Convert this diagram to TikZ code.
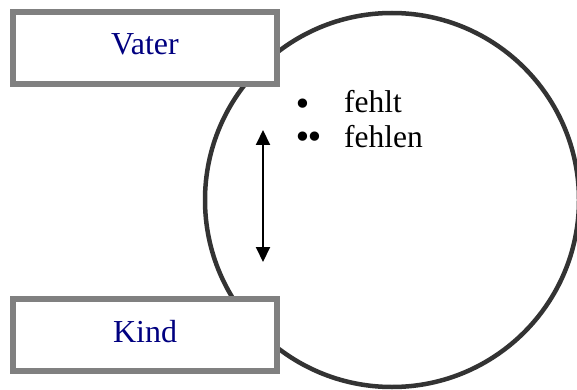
\documentclass[tikz,border=0pt]{standalone}
\usepackage{fontspec}
\setmainfont{Liberation Serif}
\newfontfamily\bulletfont{DejaVu Sans}
\usetikzlibrary{arrows.meta}
\definecolor{navy}{HTML}{000080}
\definecolor{boxgray}{HTML}{808080}
\definecolor{ringgray}{HTML}{333333}
\begin{document}
\begin{tikzpicture}[x=1pt,y=-1pt,
  labelbox/.style={draw=boxgray,line width=6pt,fill=white,minimum width=264pt,minimum height=72pt,inner sep=0pt},
  boxtext/.style={text=navy,font=\fontsize{32}{34}\selectfont,anchor=base},
  listtext/.style={text=black,font=\fontsize{31.5}{34}\selectfont,anchor=base west,inner sep=0pt},
  bullettext/.style={text=black,font=\bulletfont\fontsize{32}{34}\selectfont,anchor=base west,inner sep=0pt}]
\useasboundingbox (0,0) rectangle (577,390);
\node[draw=ringgray,line width=4.5pt,circle,minimum size=374pt,inner sep=0pt] (ring) at (392,200) {};
\node[labelbox] (vater) at (145,48) {};
\node[boxtext] (vatert) at (145,55) {Vater};
\node[labelbox] (kind) at (145,335) {};
\node[boxtext] (kindt) at (145,342) {Kind};
\node[bullettext] (b1) at (293,116) {•};
\node[listtext] (t1) at (344,113) {fehlt};
\node[bullettext] (b2) at (293,149) {•\kern-7pt•};
\node[listtext] (t2) at (344,147) {fehlen};
\coordinate (atop) at (263,130);
\coordinate (abot) at (263,262);
\draw[line width=2pt,{Triangle[width=14pt,length=15pt]}-{Triangle[width=14pt,length=15pt]}] (atop) -- (abot);
\end{tikzpicture}
\end{document}
